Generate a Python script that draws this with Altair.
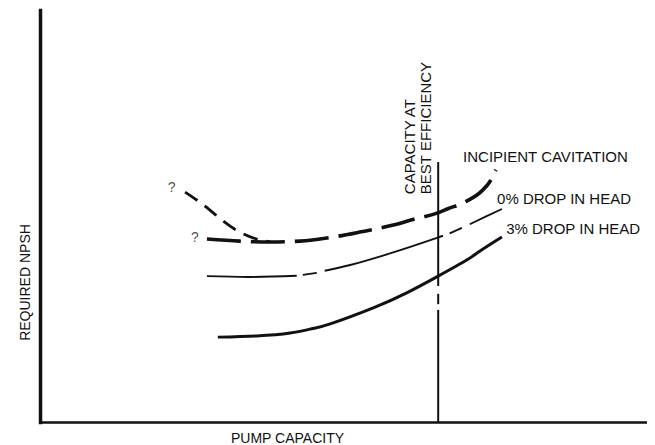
import altair as alt
import pandas as pd

# Values (x: pump capacity, y: required NPSH; both in % of axis span)
inc_main_x = [27.5, 32.9, 37.9, 42.8, 48.3, 52.7, 58.2, 61.8, 65.4, 67.1, 70.3, 72.8, 74.1, 75.1]
inc_main_y = [44.4, 43.9, 43.7, 43.9, 44.9, 46.1, 47.8, 49.3, 50.7, 51.7, 53.6, 56.1, 58.3, 61.2]
inc_branch_x = [23.9, 26.9, 30.0, 32.9, 35.7, 37.9]
inc_branch_y = [55.8, 52.7, 49.0, 46.1, 44.4, 43.8]

drop0_pieces = [
    [(27.5, 35.4), (34.6, 35.2), (42.3, 35.5)],
    [(43.3, 35.7), (45.6, 36.2)],
    [(46.9, 36.7), (51.1, 38.1), (56.5, 40.4), (61.0, 42.5), (65.4, 44.7), (66.4, 45.2)],
    [(67.5, 45.8), (69.5, 47.1)],
    [(70.8, 48.0), (73.5, 49.9), (76.1, 51.7)],
]

drop3_x = [29.3, 35.7, 41.2, 45.0, 47.8, 54.9, 60.5, 65.6, 70.3, 72.5, 76.1]
drop3_y = [20.6, 20.9, 21.6, 22.7, 23.8, 27.7, 31.4, 35.4, 39.3, 41.5, 44.9]

bep_x = 65.6
bep_pieces = [(63.1, 33.0), (31.1, 28.6), (27.2, 0.0)]

label_text = ["INCIPIENT CAVITATION", "0% DROP IN HEAD", "3% DROP IN HEAD"]
label_x = [69.7, 75.3, 76.8]
label_y = [64.3, 54.1, 46.8]

q_text = ["?", "?"]
q_x = [21.7, 25.5]
q_y = [56.8, 44.7]

bep_text = ["CAPACITY AT", "BEST EFFICIENCY"]
bep_text_x = [60.95, 63.6]
bep_text_y = [55.3, 55.3]

FONT = "Liberation Sans"
INK = "#111111"

# ---- tables
inc_main = pd.DataFrame({"x": inc_main_x, "y": inc_main_y})
inc_branch = pd.DataFrame({"x": inc_branch_x, "y": inc_branch_y})
drop0 = pd.DataFrame(
    [{"x": px, "y": py, "piece": i} for i, piece in enumerate(drop0_pieces) for px, py in piece]
)
drop3 = pd.DataFrame({"x": drop3_x, "y": drop3_y})
bep = pd.DataFrame([{"x": bep_x, "y": a, "y2": b} for a, b in bep_pieces])
labels = pd.DataFrame({"t": label_text, "x": label_x, "y": label_y})
qs = pd.DataFrame({"t": q_text, "x": q_x, "y": q_y})
bep_lab = pd.DataFrame({"t": bep_text, "x": bep_text_x, "y": bep_text_y})

xaxis = alt.Axis(
    title="PUMP CAPACITY", labels=False, ticks=False, grid=False,
    domainColor=INK, domainWidth=2.5, domainCap="square",
    titleX=247, titleY=16, titleAlign="center", titleBaseline="middle",
    titleFont=FONT, titleFontSize=14, titleFontWeight="normal", titleColor=INK,
)
yaxis = alt.Axis(
    title="REQUIRED NPSH", labels=False, ticks=False, grid=False,
    domainColor=INK, domainWidth=3.5, domainCap="square",
    titleX=-15, titleY=272, titleAngle=270, titleAlign="center", titleBaseline="middle",
    titleFont=FONT, titleFontSize=14, titleFontWeight="normal", titleColor=INK,
)
xs = alt.Scale(domain=[0, 100], nice=False, zero=False)
ys = alt.Scale(domain=[0, 100], nice=False, zero=False)


def X(f="x"):
    return alt.X(f"{f}:Q", scale=xs, axis=xaxis)


def Y(f="y"):
    return alt.Y(f"{f}:Q", scale=ys, axis=yaxis)


l_main = alt.Chart(inc_main).mark_line(
    color=INK, strokeWidth=3.6, strokeDash=[34, 10], interpolate="monotone"
).encode(x=X(), y=Y(), order="x:Q")

l_branch = alt.Chart(inc_branch).mark_line(
    color=INK, strokeWidth=2.8, strokeDash=[15, 9], interpolate="natural"
).encode(x=X(), y=Y(), order="x:Q")

l_drop0 = alt.Chart(drop0).mark_line(
    color=INK, strokeWidth=1.9, interpolate="natural"
).encode(x=X(), y=Y(), detail="piece:N", order="x:Q")

l_drop3 = alt.Chart(drop3).mark_line(
    color=INK, strokeWidth=3.0, interpolate="natural"
).encode(x=X(), y=Y(), order="x:Q")

l_bep = alt.Chart(bep).mark_rule(color=INK, strokeWidth=2).encode(
    x=X(), y=Y(), y2="y2:Q"
)

t_labels = alt.Chart(labels).mark_text(
    font=FONT, fontSize=15, color=INK, align="left", baseline="middle"
).encode(x=X(), y=Y(), text="t:N")

t_q = alt.Chart(qs).mark_text(
    font=FONT, fontSize=14, color="#555555", align="center", baseline="middle"
).encode(x=X(), y=Y(), text="t:N")

t_bep = alt.Chart(bep_lab).mark_text(
    font=FONT, fontSize=15, color=INK, align="left", baseline="middle", angle=270
).encode(x=X(), y=Y(), text="t:N")

chart = alt.layer(
    l_main, l_branch, l_drop0, l_drop3, l_bep, t_labels, t_q, t_bep
).properties(
    width=607, height=412,
    padding={"left": 32, "top": 2, "right": 0, "bottom": 23},
    autosize=alt.AutoSizeParams(type="none"),
    background="white",
).configure_view(stroke=None)

chart.save("out.html", embed_options={"renderer": "svg", "actions": False})
